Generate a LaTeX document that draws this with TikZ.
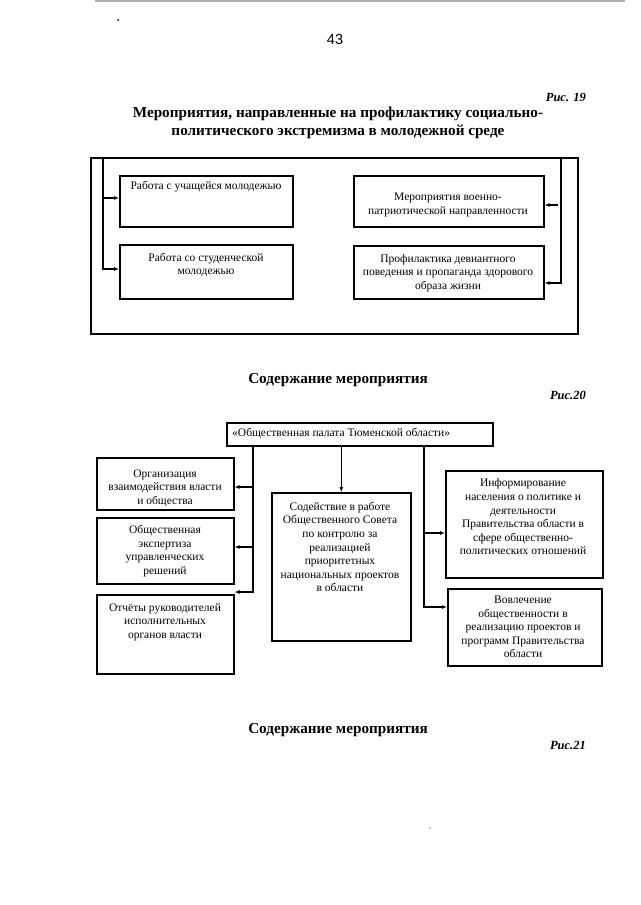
\documentclass[tikz,border=0pt]{standalone}
\usepackage{fontspec}
\setmainfont{Liberation Serif}
\newfontfamily\arialfont{Liberation Sans}
\usetikzlibrary{arrows.meta}
\begin{document}
\begin{tikzpicture}[x=1pt,y=-1pt,
  box/.style={draw, line width=1.6pt, inner sep=0pt, anchor=north west},
  txt/.style={align=center, inner sep=0pt, font=\fontsize{11.5}{13.6}\selectfont},
  arr/.style={line width=1.5pt, -{Latex[length=5pt,width=4pt]}},
  head/.style={inner sep=0pt, font=\bfseries\fontsize{15.2}{18}\selectfont, align=center},
  fig/.style={inner sep=0pt, anchor=east, font=\bfseries\itshape\fontsize{12.5}{14}\selectfont},
]
\useasboundingbox (0,0) rectangle (640,905);
% scan edge and specks
\draw[gray!60, line width=1.5pt] (95,1) -- (625,1);
\fill (118,20) circle (1);
\fill (430,828) circle (0.6);

\node[inner sep=0pt, font=\arialfont\fontsize{14.5}{16}\selectfont] (pg) at (335,40) {43};
\node[fig] (r19) at (586,97) {Рис. 19};
\node[head] (title1) at (338,123) {Мероприятия, направленные на профилактику социально-\\политического экстремизма в молодежной среде};

% ---- Figure 19
\node[box, line width=1.7pt, minimum width=487pt, minimum height=176pt] (frame) at (90,157) {};
\node[box, minimum width=173pt, minimum height=51pt] (b1) at (119,175) {};
\node[box, minimum width=173pt, minimum height=54pt] (b3) at (119,244) {};
\node[box, minimum width=190pt, minimum height=51pt] (b2) at (353,175) {};
\node[box, minimum width=190pt, minimum height=53pt] (b4) at (353,245) {};
\node[txt] (t1) at (206,187) {Работа с учащейся молодежью};
\node[txt] (t3) at (206,265) {Работа со студенческой\\молодежью};
\node[txt] (t2) at (448,205) {Мероприятия военно-\\патриотической направленности};
\node[txt] (t4) at (448,273) {Профилактика девиантного\\поведения и пропаганда здорового\\образа жизни};

\coordinate (l1) at (103,157);
\coordinate (r1) at (561,157);
\coordinate (r2) at (558,205);
\draw[arr] (l1) |- (b1.west |- 0,198);
\draw[arr] (l1) |- (b3.west |- 0,269);
\draw[arr] (r1) |- (b4.east |- 0,283);
\draw[arr] (r2) -- (b2.east |- r2);

% ---- Figure 20
\node[head] (s1) at (338,380) {Содержание мероприятия};
\node[fig] (r20) at (586,395) {Рис.20};

\node[box, minimum width=266pt, minimum height=23pt] (pal) at (226,422) {};
\node[txt, anchor=west] (tpal) at (232,434) {«Общественная палата Тюменской области»};
\node[box, minimum width=137pt, minimum height=52pt] (A) at (96,457) {};
\node[box, minimum width=137pt, minimum height=66pt] (B) at (96,517) {};
\node[box, minimum width=137pt, minimum height=79pt] (C) at (96,594) {};
\node[box, minimum width=139pt, minimum height=148pt] (M) at (271,492) {};
\node[box, minimum width=157pt, minimum height=107pt] (I) at (445,470) {};
\node[box, minimum width=154pt, minimum height=77pt] (V) at (447,588) {};

\node[txt] (tA) at (165,488) {Организация\\взаимодействия власти\\и общества};
\node[txt] (tB) at (165,551) {Общественная\\экспертиза\\управленческих\\решений};
\node[txt] (tC) at (165,622) {Отчёты руководителей\\исполнительных\\органов власти};
\node[txt] (tM) at (340,547) {Содействие в работе\\Общественного Совета\\по контролю за\\реализацией\\приоритетных\\национальных проектов\\в области};
\node[txt] (tI) at (523,517) {Информирование\\населения о политике и\\деятельности\\Правительства области в\\сфере общественно-\\политических отношений};
\node[txt] (tV) at (523,627) {Вовлечение\\общественности в\\реализацию проектов и\\программ Правительства\\области};

\coordinate (pl) at (253,445);
\coordinate (pr) at (424,445);
\draw[arr] (pl) |- (A.east |- 0,487);
\draw[arr] (pl) |- (B.east |- 0,547);
\draw[arr] (pl) |- (C.north east |- 0,592);
\draw[arr] (M.north |- pal.south) -- (M.north);
\draw[arr] (pr) |- (I.west |- 0,533);
\draw[arr] (pr) |- (V.west |- 0,607);

% ---- Figure 21 heading
\node[head] (s2) at (338,730) {Содержание мероприятия};
\node[fig] (r21) at (586,745) {Рис.21};
\end{tikzpicture}
\end{document}
